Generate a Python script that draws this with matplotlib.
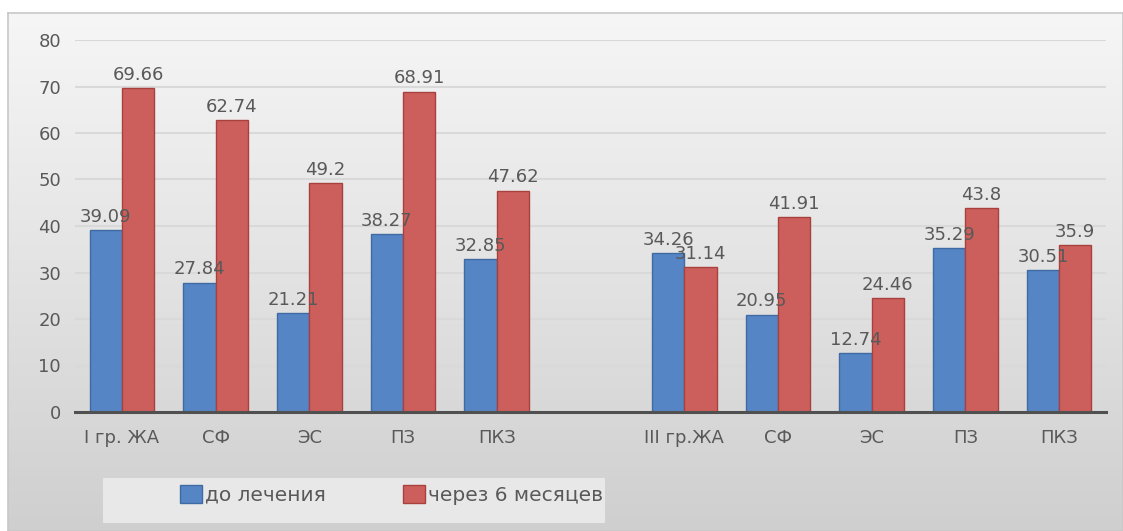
import numpy as np
import matplotlib
matplotlib.use('Agg')
import matplotlib.pyplot as plt
from matplotlib.patches import Rectangle, Patch

# categories of both groups; the empty slot separates group I from group III
categories = ['I гр. ЖА', 'СФ', 'ЭС', 'ПЗ', 'ПКЗ', '',
              'III гр.ЖА', 'СФ', 'ЭС', 'ПЗ', 'ПКЗ']
before = [39.09, 27.84, 21.21, 38.27, 32.85, None,
          34.26, 20.95, 12.74, 35.29, 30.51]
after6 = [69.66, 62.74, 49.2, 68.91, 47.62, None,
          31.14, 41.91, 24.46, 43.8, 35.9]
series_names = ['до лечения', 'через 6 месяцев']

plt.rcParams['font.family'] = ['DejaVu Sans']
text_color = '#595959'
fs = 13
blue, blue_edge = '#5585c4', '#3f6aa3'
red, red_edge = '#cc5f5b', '#a8413e'

W, H = 1123, 531
fig = plt.figure(figsize=(W / 100, H / 100), dpi=100)
fig.patch.set_facecolor('white')

# chart area background: light vertical gradient with a thin border
bg = fig.add_axes([8 / W, 0, 1 - 8 / W, 1 - 13 / H], zorder=-10)
grad = np.linspace(0, 1, 256)[:, None]
bg.imshow(grad, aspect='auto', cmap=matplotlib.colors.LinearSegmentedColormap.from_list(
    'bg', ['#f6f6f6', '#e3e3e3', '#cfcfcf']), extent=[0, 1, 0, 1], origin='upper')
bg.set_xlim(0, 1)
bg.set_ylim(0, 1)
bg.set_xticks([])
bg.set_yticks([])
for s in bg.spines.values():
    s.set_color('#c8c8c8')
    s.set_linewidth(1.2)

# legend backdrop
fig.patches.append(Rectangle((103 / W, 1 - 523 / H), (605 - 103) / W, (523 - 478) / H,
                             transform=fig.transFigure, facecolor='#e8e8e8',
                             edgecolor='none', zorder=-5))

ax = fig.add_axes([75 / W, 1 - 412 / H, (1106 - 75) / W, (412 - 40) / H])
ax.set_facecolor('none')

x = np.arange(len(categories))
w = 0.345
b_vals = [np.nan if v is None else v for v in before]
a_vals = [np.nan if v is None else v for v in after6]
bars_b = ax.bar(x - w / 2, b_vals, w, color=blue, edgecolor=blue_edge, linewidth=1, zorder=3)
bars_a = ax.bar(x + w / 2, a_vals, w, color=red, edgecolor=red_edge, linewidth=1, zorder=3)

for bars, vals in ((bars_b, before), (bars_a, after6)):
    for rect, v in zip(bars, vals):
        if v is None:
            continue
        ax.annotate(f'{v:g}', (rect.get_x() + rect.get_width() / 2, v),
                    xytext=(0, 3), textcoords='offset points',
                    ha='center', va='bottom', fontsize=fs, color=text_color, zorder=5)

ax.set_xlim(-0.5, len(categories) - 0.5)
ax.set_ylim(0, 80)
ax.set_yticks(np.arange(0, 81, 10))
ax.set_xticks(x)
ax.set_xticklabels(categories)
ax.tick_params(axis='both', length=0, labelsize=fs, labelcolor=text_color)
ax.tick_params(axis='y', pad=10)
ax.tick_params(axis='x', pad=12)
ax.yaxis.grid(True, color='#d9d9d9', linewidth=1.5, zorder=0)
ax.set_axisbelow(True)
for side in ('top', 'right', 'left'):
    ax.spines[side].set_visible(False)
ax.spines['bottom'].set_color('#505050')
ax.spines['bottom'].set_linewidth(2.2)
ax.spines['bottom'].set_zorder(4)

handles = [Patch(facecolor=blue, edgecolor=blue_edge),
           Patch(facecolor=red, edgecolor=red_edge)]
fig.legend(handles, series_names, loc='center left',
           bbox_to_anchor=(180 / W, 1 - 495 / H), ncol=2, frameon=False,
           fontsize=14.5, labelcolor=text_color, handlelength=1.1, handleheight=0.95,
           handletextpad=0.15, columnspacing=3.8, borderpad=0, borderaxespad=0)

fig.savefig('out.png', dpi=100)
